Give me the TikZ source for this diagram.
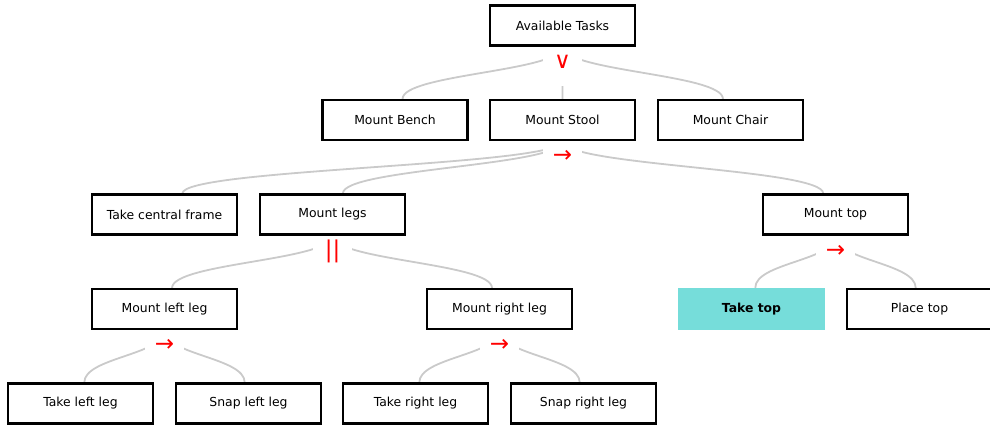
\documentclass[tikz,border=0pt]{standalone}
\usepackage{fontspec}
\setmainfont{DejaVu Sans}
\usetikzlibrary{calc}
\pgfdeclarelayer{background}
\pgfsetlayers{background,main}
\definecolor{edgegray}{RGB}{202,202,202}
\definecolor{hlteal}{RGB}{118,221,218}
\definecolor{opred}{RGB}{255,0,0}
\begin{document}
\begin{tikzpicture}[x=1pt,y=-1pt,
  task/.style={draw=black, line width=2.1pt, fill=white, minimum width=145pt, minimum height=40pt, inner sep=0pt, font=\fontsize{12.4}{14}\selectfont},
  hltask/.style={draw=none, fill=hlteal, minimum width=147pt, minimum height=42pt, inner sep=0pt, font=\fontsize{12.4}{14}\selectfont\bfseries},
  edge/.style={draw=edgegray, line width=1.8pt},
  opmask/.style={fill=white, draw=none, minimum width=39pt, minimum height=39pt, inner sep=0pt, outer sep=0pt, anchor=north},
  op/.style={text=opred, font=\fontsize{23}{23}\selectfont, anchor=base, inner sep=0pt}]
\useasboundingbox (0,0) rectangle (990,428);
% row 1
\node[task] (at) at (562.5,25.5) {Available Tasks};
% row 2
\node[task] (mb) at (395,120) {Mount Bench};
\node[task] (ms) at (562.5,120) {Mount Stool};
\node[task] (mc) at (730.5,120) {Mount Chair};
% row 3
\node[task] (tcf) at (164.5,214.5) {Take central frame};
\node[task] (ml) at (332.5,214.5) {Mount legs};
\node[task] (mt) at (835.5,214.5) {Mount top};
% row 4
\node[task] (mll) at (164.5,309) {Mount left leg};
\node[task] (mrl) at (499.5,309) {Mount right leg};
\node[hltask] (tt) at (751.5,309) {Take top};
\node[task] (pt) at (919.5,309) {Place top};
% row 5
\node[task] (tll) at (80.5,403.5) {Take left leg};
\node[task] (sll) at (248.5,403.5) {Snap left leg};
\node[task] (trl) at (415.5,403.5) {Take right leg};
\node[task] (srl) at (583.5,403.5) {Snap right leg};
% connectors
\begin{pgfonlayer}{background}
\foreach \p/\c in {at/mb, at/ms, at/mc, ms/tcf, ms/ml, ms/mt, ml/mll, ml/mrl, mt/tt, mt/pt, mll/tll, mll/sll, mrl/trl, mrl/srl}{
  \draw[edge] (\p.south) .. controls +(0,25) and +(0,-25) .. ($(\c.north)!0.045!(\p.south |- \c.north)$);
}
\foreach \p in {at, ms, ml, mt, mll, mrl}{
  \node[opmask] at (\p.south) {};
}
\end{pgfonlayer}
% operators
\node[op] (op-at) at ($(at.south)+(0,21.5)$) {∨};
\node[op] (op-ms) at ($(ms.south)+(0,21.5)$) {→};
\node[op] (op-ml) at ($(ml.south)+(0,21.5)$) {||};
\node[op] (op-mt) at ($(mt.south)+(0,21.5)$) {→};
\node[op] (op-mll) at ($(mll.south)+(0,21.5)$) {→};
\node[op] (op-mrl) at ($(mrl.south)+(0,21.5)$) {→};
\end{tikzpicture}
\end{document}
